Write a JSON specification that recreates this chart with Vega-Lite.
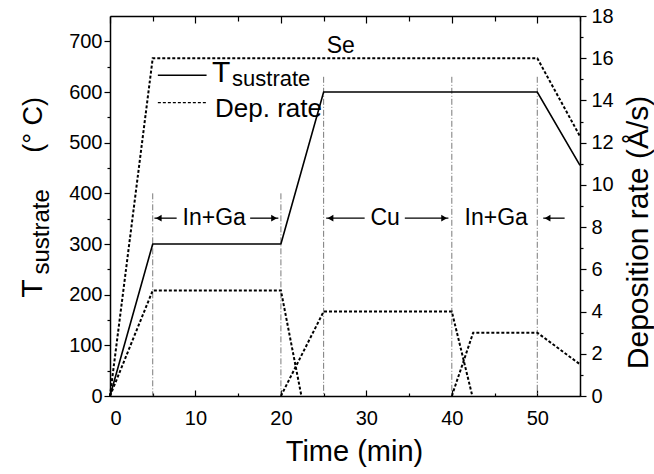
{
  "$schema": "https://vega.github.io/schema/vega-lite/v6.json",
  "width": 470,
  "height": 380,
  "autosize": {"type": "none"},
  "padding": {"left": 110, "top": 16, "right": 74, "bottom": 78},
  "background": "white",
  "config": {
    "view": {"stroke": null},
    "font": "Liberation Sans",
    "axis": {
      "grid": false,
      "domainColor": "black",
      "domainWidth": 1.5,
      "tickColor": "black",
      "tickWidth": 1.2,
      "labelColor": "black",
      "labelFont": "Liberation Sans",
      "labelFontSize": 20,
      "titleFont": "Liberation Sans",
      "titleColor": "black",
      "titleFontWeight": "normal",
      "labelOverlap": false
    },
    "text": {"font": "Liberation Sans", "color": "black"}
  },
  "datasets": {
    "temp": [
      {"t": 0, "v": 0}, {"t": 5, "v": 300}, {"t": 20, "v": 300},
      {"t": 25, "v": 600}, {"t": 50, "v": 600}, {"t": 55, "v": 455}
    ],
    "dep": [
      {"s": "Se", "t": 0, "r": 0}, {"s": "Se", "t": 5, "r": 16}, {"s": "Se", "t": 50, "r": 16}, {"s": "Se", "t": 55, "r": 12.3},
      {"s": "InGa1", "t": 0, "r": 0}, {"s": "InGa1", "t": 5, "r": 5}, {"s": "InGa1", "t": 20, "r": 5}, {"s": "InGa1", "t": 22.4, "r": 0},
      {"s": "Cu", "t": 20, "r": 0}, {"s": "Cu", "t": 25, "r": 4}, {"s": "Cu", "t": 40, "r": 4}, {"s": "Cu", "t": 42.4, "r": 0},
      {"s": "InGa2", "t": 40, "r": 0}, {"s": "InGa2", "t": 42.5, "r": 3}, {"s": "InGa2", "t": 50, "r": 3}, {"s": "InGa2", "t": 55, "r": 1.5}
    ],
    "vlines": [
      {"t": 5, "v": 400}, {"t": 20, "v": 400}, {"t": 25, "v": 630}, {"t": 40, "v": 630}, {"t": 50, "v": 630}
    ],
    "arrows": [
      {"t": 5.2, "t2": 7.8, "v": 351}, {"t": 16.4, "t2": 19.7, "v": 351},
      {"t": 25.3, "t2": 29.8, "v": 351}, {"t": 34.5, "t2": 39.6, "v": 351},
      {"t": 50.7, "t2": 53.2, "v": 351}
    ],
    "heads": [
      {"t": 5.7, "v": 351, "dir": "l"}, {"t": 19.2, "v": 351, "dir": "r"},
      {"t": 25.8, "v": 351, "dir": "l"}, {"t": 39.1, "v": 351, "dir": "r"},
      {"t": 51.2, "v": 351, "dir": "l"}
    ],
    "labels": [
      {"t": 12.2, "v": 351, "txt": "In+Ga"}, {"t": 32.2, "v": 351, "txt": "Cu"}, {"t": 45.2, "v": 351, "txt": "In+Ga"}
    ]
  },
  "layer": [
    {
      "encoding": {
        "x": {
          "field": "t", "type": "quantitative",
          "scale": {"domain": [0, 55], "nice": false, "zero": false},
          "axis": {
            "orient": "bottom",
            "values": [0, 5, 10, 15, 20, 25, 30, 35, 40, 45, 50, 55],
            "labelExpr": "datum.value % 10 === 0 ? datum.label : ''",
            "tickSize": {"condition": {"test": "datum.value % 10 === 0", "value": -6}, "value": -3},
            "labelPadding": 18,
            "title": "Time (min)",
            "titleFontSize": 29,
            "titleX": 244,
            "titleY": 64,
            "titleAnchor": "middle",
            "titleAlign": "center",
            "titleBaseline": "alphabetic"
          }
        },
        "y": {
          "field": "v", "type": "quantitative",
          "scale": {"domain": [0, 750], "nice": false},
          "axis": {
            "orient": "left",
            "values": [0, 50, 100, 150, 200, 250, 300, 350, 400, 450, 500, 550, 600, 650, 700],
            "labelExpr": "datum.value % 100 === 0 ? datum.label : ''",
            "tickSize": {"condition": {"test": "datum.value % 100 === 0", "value": 6}, "value": 3},
            "labelPadding": 2,
            "title": null
          }
        }
      },
      "layer": [
        {
          "data": {"name": "vlines"},
          "mark": {"type": "rule", "color": "#7a7a7a", "strokeWidth": 1, "strokeDash": [6, 2, 1, 2]},
          "encoding": {"y2": {"datum": 0}}
        },
        {
          "data": {"name": "temp"},
          "mark": {"type": "line", "color": "black", "strokeWidth": 1.6}
        },
        {
          "data": {"name": "arrows"},
          "mark": {"type": "rule", "color": "black", "strokeWidth": 1.3},
          "encoding": {"x2": {"field": "t2"}}
        },
        {
          "data": {"name": "heads"},
          "mark": {"type": "point", "filled": true, "color": "black", "size": 45, "opacity": 1},
          "encoding": {
            "shape": {"field": "dir", "type": "nominal", "scale": {"domain": ["l", "r"], "range": ["triangle-left", "triangle-right"]}, "legend": null}
          }
        },
        {
          "data": {"name": "labels"},
          "mark": {"type": "text", "fontSize": 23, "align": "center", "baseline": "middle"},
          "encoding": {"text": {"field": "txt"}}
        },
        {
          "data": {"values": [{"t": 5.6, "t2": 11.3, "v": 633}]},
          "mark": {"type": "rule", "color": "black", "strokeWidth": 1.5},
          "encoding": {"x2": {"field": "t2"}}
        },
        {
          "data": {"values": [{"t": 5.6, "t2": 11.3, "v": 579}]},
          "mark": {"type": "rule", "color": "black", "strokeWidth": 1.3, "strokeDash": [3, 2]},
          "encoding": {"x2": {"field": "t2"}}
        },
        {
          "data": {"values": [{"t": 11.94, "v": 619.7, "txt": "T"}]},
          "mark": {"type": "text", "fontSize": 30, "align": "left", "baseline": "alphabetic"},
          "encoding": {"text": {"field": "txt"}}
        },
        {
          "data": {"values": [{"t": 14.28, "v": 611.8, "txt": "sustrate"}]},
          "mark": {"type": "text", "fontSize": 22, "align": "left", "baseline": "alphabetic"},
          "encoding": {"text": {"field": "txt"}}
        },
        {
          "data": {"values": [{"t": 12.29, "v": 550.7, "txt": "Dep. rate"}]},
          "mark": {"type": "text", "fontSize": 26, "align": "left", "baseline": "alphabetic"},
          "encoding": {"text": {"field": "txt"}}
        },
        {
          "data": {"values": [{"t": -8.0, "v": 212, "txt": "T"}]},
          "mark": {"type": "text", "fontSize": 30, "angle": 270, "align": "center", "baseline": "alphabetic"},
          "encoding": {"text": {"field": "txt"}}
        },
        {
          "data": {"values": [{"t": -7.9, "v": 535, "txt": "(° C)"}]},
          "mark": {"type": "text", "fontSize": 27, "angle": 270, "align": "center", "baseline": "alphabetic"},
          "encoding": {"text": {"field": "txt"}}
        },
        {
          "data": {"values": [{"t": -7.1, "v": 324, "txt": "sustrate"}]},
          "mark": {"type": "text", "fontSize": 24, "angle": 270, "align": "center", "baseline": "alphabetic"},
          "encoding": {"text": {"field": "txt"}}
        }
      ]
    },
    {
      "encoding": {
        "x": {
          "field": "t", "type": "quantitative",
          "scale": {"domain": [0, 55], "nice": false, "zero": false},
          "axis": {
            "orient": "top",
            "values": [0, 5, 10, 15, 20, 25, 30, 35, 40, 45, 50, 55],
            "labels": false,
            "tickSize": {"condition": {"test": "datum.value % 10 === 0", "value": -7}, "value": -5},
            "title": null
          }
        },
        "y": {
          "field": "r", "type": "quantitative",
          "scale": {"domain": [0, 18], "nice": false},
          "axis": {
            "orient": "right",
            "values": [0, 1, 2, 3, 4, 5, 6, 7, 8, 9, 10, 11, 12, 13, 14, 15, 16, 17, 18],
            "labelExpr": "datum.value % 2 === 0 ? datum.label : ''",
            "tickSize": {"condition": {"test": "datum.value % 2 === 0", "value": 6}, "value": 3},
            "labelPadding": 5,
            "title": "Deposition rate (Å/s)",
            "titleFontSize": 30,
            "titleAngle": 270,
            "titleX": 67,
            "titleY": 216,
            "titleAlign": "center",
            "titleBaseline": "alphabetic"
          }
        }
      },
      "layer": [
        {
          "data": {"name": "dep"},
          "mark": {"type": "line", "color": "black", "strokeWidth": 2, "strokeDash": [3, 2]},
          "encoding": {"detail": {"field": "s", "type": "nominal"}}
        },
        {
          "data": {"values": [{"t": 27.0, "r": 16.25, "txt": "Se"}]},
          "mark": {"type": "text", "fontSize": 23, "align": "center", "baseline": "alphabetic"},
          "encoding": {"text": {"field": "txt"}}
        }
      ]
    }
  ],
  "resolve": {"scale": {"y": "independent"}, "axis": {"x": "independent", "y": "independent"}}
}
